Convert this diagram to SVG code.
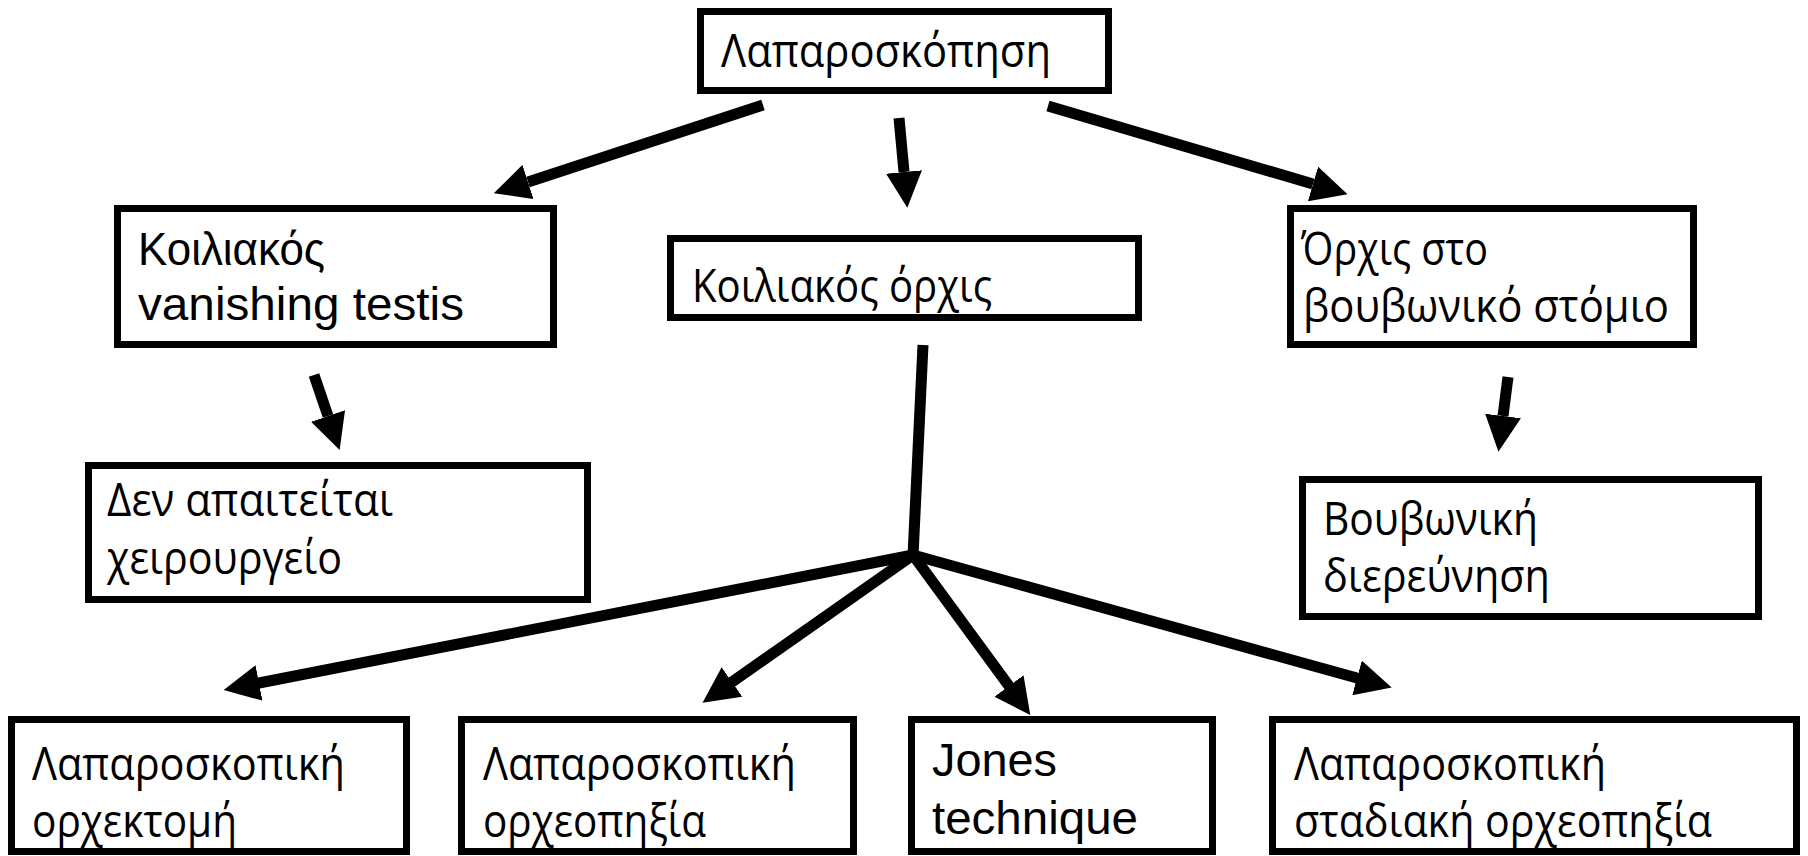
<svg xmlns="http://www.w3.org/2000/svg" width="1808" height="856" viewBox="0 0 1808 856">
<style>
.box{fill:#fff;stroke:#000;stroke-width:7}
.g{font-family:"Open Sans","Noto Sans","DejaVu Sans",sans-serif;font-size:46px;fill:#000}
.a{font-family:"Liberation Sans",Arial,sans-serif;font-size:47px;fill:#000}
.c{fill:none;stroke:#000;stroke-width:11}
</style>
<defs>
<marker id="ah" viewBox="0 0 36 36" refX="0" refY="18" markerWidth="36" markerHeight="36" markerUnits="userSpaceOnUse" orient="auto">
<path d="M0,0 L36,18 L0,36 z" fill="#000"/>
</marker>
</defs>
<rect width="1808" height="856" fill="#fff"/>
<g id="connectors">
<line class="c" x1="763" y1="105" x2="528" y2="182" marker-end="url(#ah)"/>
<line class="c" x1="899" y1="118" x2="904" y2="172" marker-end="url(#ah)"/>
<line class="c" x1="1048" y1="106" x2="1313" y2="184" marker-end="url(#ah)"/>
<line class="c" x1="314" y1="375" x2="328" y2="416" marker-end="url(#ah)"/>
<line class="c" x1="1508" y1="377" x2="1503" y2="416" marker-end="url(#ah)"/>
<line class="c" x1="923" y1="345" x2="913" y2="556"/>
<line class="c" x1="913" y1="555" x2="259" y2="683" stroke-linecap="round" marker-end="url(#ah)"/>
<line class="c" x1="913" y1="555" x2="732" y2="682" stroke-linecap="round" marker-end="url(#ah)"/>
<line class="c" x1="913" y1="555" x2="1009" y2="686" stroke-linecap="round" marker-end="url(#ah)"/>
<line class="c" x1="913" y1="555" x2="1357" y2="678" stroke-linecap="round" marker-end="url(#ah)"/>
</g>
<g id="n-laparoskopisi">
<rect class="box" x="700.5" y="11.5" width="408" height="79"/>
<text class="g" x="721" y="67" textLength="330" lengthAdjust="spacingAndGlyphs">Λαπαροσκόπηση</text>
</g>
<g id="n-vanishing">
<rect class="box" x="117.5" y="208.5" width="436" height="136"/>
<text class="a" x="138" y="265" textLength="187" lengthAdjust="spacingAndGlyphs">Κοιλιακός</text>
<text class="a" x="138" y="320" textLength="326" lengthAdjust="spacingAndGlyphs">vanishing testis</text>
</g>
<g id="n-koiliakos-orxis">
<rect class="box" x="670.5" y="238.5" width="468" height="79"/>
<text class="g" x="692" y="302" textLength="300" lengthAdjust="spacingAndGlyphs">Κοιλιακός όρχις</text>
</g>
<g id="n-den-apaiteitai">
<rect class="box" x="88.5" y="465.5" width="499" height="134"/>
<text class="g" x="107" y="516" textLength="286" lengthAdjust="spacingAndGlyphs">Δεν απαιτείται</text>
<text class="g" x="107" y="574" textLength="235" lengthAdjust="spacingAndGlyphs">χειρουργείο</text>
</g>
<g id="n-vouvoniko-stomio">
<rect class="box" x="1290.5" y="208.5" width="403" height="136"/>
<text class="g" x="1301" y="265" textLength="187" lengthAdjust="spacingAndGlyphs">Όρχις στο</text>
<text class="g" x="1303" y="322" textLength="366" lengthAdjust="spacingAndGlyphs">βουβωνικό στόμιο</text>
</g>
<g id="n-vouvoniki-dierevnisi">
<rect class="box" x="1302.5" y="479.5" width="456" height="137"/>
<text class="g" x="1323" y="535" textLength="215" lengthAdjust="spacingAndGlyphs">Βουβωνική</text>
<text class="g" x="1323" y="592" textLength="227" lengthAdjust="spacingAndGlyphs">διερεύνηση</text>
</g>
<g id="n-orxektomi">
<rect class="box" x="11.5" y="719.5" width="395" height="132"/>
<text class="g" x="32" y="780" textLength="313" lengthAdjust="spacingAndGlyphs">Λαπαροσκοπική</text>
<text class="g" x="32" y="837" textLength="205" lengthAdjust="spacingAndGlyphs">ορχεκτομή</text>
</g>
<g id="n-orxeopixia">
<rect class="box" x="461.5" y="719.5" width="392" height="132"/>
<text class="g" x="483" y="780" textLength="313" lengthAdjust="spacingAndGlyphs">Λαπαροσκοπική</text>
<text class="g" x="483" y="837" textLength="223" lengthAdjust="spacingAndGlyphs">ορχεοπηξία</text>
</g>
<g id="n-jones">
<rect class="box" x="911.5" y="719.5" width="301" height="132"/>
<text class="a" x="932" y="776" textLength="125" lengthAdjust="spacingAndGlyphs">Jones</text>
<text class="a" x="932" y="834" textLength="206" lengthAdjust="spacingAndGlyphs">technique</text>
</g>
<g id="n-stadiaki">
<rect class="box" x="1272.5" y="719.5" width="524" height="132"/>
<text class="g" x="1294" y="780" textLength="312" lengthAdjust="spacingAndGlyphs">Λαπαροσκοπική</text>
<text class="g" x="1294" y="837" textLength="418" lengthAdjust="spacingAndGlyphs">σταδιακή ορχεοπηξία</text>
</g>
</svg>
